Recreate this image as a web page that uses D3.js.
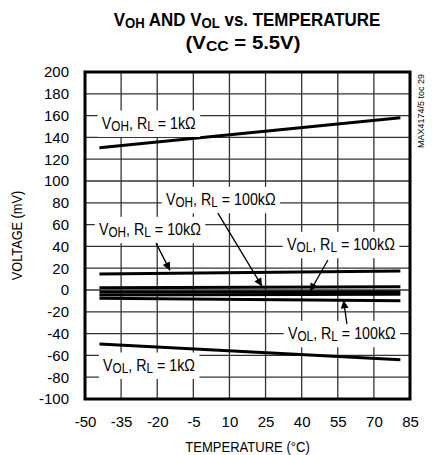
<!DOCTYPE html>
<html>
<head>
<meta charset="utf-8">
<script src="https://cdn.jsdelivr.net/npm/d3@7"></script>
<style>
  body { margin: 0; background: #fff; }
  svg text { font-family: "Liberation Sans", Arial, sans-serif; }
</style>
</head>
<body>
<script>
// chart values
var xTicks = [-50, -35, -20, -5, 10, 25, 40, 55, 70, 85]
var yTicks = [200, 180, 160, 140, 120, 100, 80, 60, 40, 20, 0, -20, -40, -60, -80, -100]

var temps = [-44, 81]
var vohR1k = [130.5, 158]
var vohR10k = [14.7, 17.4]
var vohR100k = [2.1, 3]
var volR10k = [-1.8, -1.5]
var volR100kA = [-4.6, -3.9]
var volR100kB = [-7.6, -9.8]
var volR1k = [-49.5, -64]

var seriesList = [vohR1k, vohR10k, vohR100k, volR10k, volR100kA, volR100kB, volR1k]

// labels: [sub, load, tempPos, mvPos]
var labels = [
  ["OH", "1k", -43, 148],
  ["OH", "100k", -16.4, 78],
  ["OH", "10k", -44.2, 50.5],
  ["OL", "100k", 33.9, 36.7],
  ["OL", "100k", 34.3, -45],
  ["OL", "1k", -42.5, -74]
]

// arrows: [fromTemp, fromMv, toTemp, toMv]
var arrows = [
  [5.2, 70.6, 23.5, 3.5],
  [-20.5, 43, -14.7, 18],
  [50.9, 27.5, 43.5, -1.2],
  [58.8, -31, 57.4, -9.5]
]

var width = 432
var height = 455
var pad = {left: 85, right: 22, top: 72, bottom: 56}

var svg = d3.select("body").append("svg")
            .attr("width", width)
            .attr("height", height)

var xScale = d3.scaleLinear().domain([-50, 85]).range([pad.left, width - pad.right])
var yScale = d3.scaleLinear().domain([-100, 200]).range([height - pad.bottom, pad.top])

var defs = svg.append("defs")
defs.append("marker")
    .attr("id", "head")
    .attr("viewBox", "0 0 10 10")
    .attr("refX", 10).attr("refY", 5)
    .attr("markerWidth", 11).attr("markerHeight", 8)
    .attr("markerUnits", "userSpaceOnUse")
    .attr("orient", "auto")
  .append("path")
    .attr("d", "M0,0 L10,5 L0,10 Z")
    .attr("fill", "#000")

// grid
svg.append("g").selectAll("line")
   .data(xTicks).enter().append("line")
   .attr("x1", function(d){ return xScale(d) })
   .attr("x2", function(d){ return xScale(d) })
   .attr("y1", yScale(200)).attr("y2", yScale(-100))
   .attr("stroke", "#333").attr("stroke-width", 1.3)

svg.append("g").selectAll("line")
   .data(yTicks).enter().append("line")
   .attr("y1", function(d){ return yScale(d) })
   .attr("y2", function(d){ return yScale(d) })
   .attr("x1", xScale(-50)).attr("x2", xScale(85))
   .attr("stroke", "#333").attr("stroke-width", 1.3)

// data lines
var line = d3.line()
             .x(function(d){ return xScale(d[0]) })
             .y(function(d){ return yScale(d[1]) })

svg.append("g").selectAll("path")
   .data(seriesList).enter().append("path")
   .attr("d", function(s){ return line(temps.map(function(t, i){ return [t, s[i]] })) })
   .attr("fill", "none")
   .attr("stroke", "#000")
   .attr("stroke-width", 3)

// label boxes + text, squeezed horizontally (original uses a condensed face)
var labG = svg.append("g")
labels.forEach(function(l){
  var x = xScale(l[2]), y = yScale(l[3])
  var t = labG.append("text")
           .attr("transform", "translate(" + x + "," + y + ") scale(0.84,1)")
           .style("font-size", "17px")
  t.append("tspan").text("V")
  t.append("tspan").text(l[0]).style("font-size", "14px").attr("dy", 2)
  t.append("tspan").text(", R").attr("dy", -2)
  t.append("tspan").text("L").style("font-size", "14px").attr("dy", 2)
  t.append("tspan").text(" = " + l[1] + "Ω").attr("dy", -2)
  var bb = t.node().getBBox()
  labG.insert("rect", "text")
   .attr("x", x + (bb.x - 5) * 0.84).attr("y", y + bb.y - 3)
   .attr("width", (bb.width + 10) * 0.84).attr("height", bb.height + 6)
   .attr("fill", "#fff")
})

// arrows
svg.append("g").selectAll("line")
   .data(arrows).enter().append("line")
   .attr("x1", function(d){ return xScale(d[0]) })
   .attr("y1", function(d){ return yScale(d[1]) })
   .attr("x2", function(d){ return xScale(d[2]) })
   .attr("y2", function(d){ return yScale(d[3]) })
   .attr("stroke", "#000").attr("stroke-width", 1.3)
   .attr("marker-end", "url(#head)")

// frame
svg.append("rect")
   .attr("x", xScale(-50)).attr("y", yScale(200))
   .attr("width", xScale(85) - xScale(-50))
   .attr("height", yScale(-100) - yScale(200))
   .attr("fill", "none").attr("stroke", "#000").attr("stroke-width", 3)

// axes labels (plain hyphen, like the original)
var fmt = function(d){ return String(d) }
var xAxis = d3.axisBottom(xScale).tickValues(xTicks).tickFormat(fmt).tickSize(0).tickPadding(17)
var yAxis = d3.axisLeft(yScale).tickValues(yTicks).tickFormat(fmt).tickSize(0).tickPadding(16)

var gx = svg.append("g").attr("transform", "translate(0," + yScale(-100) + ")").call(xAxis)
var gy = svg.append("g").attr("transform", "translate(" + xScale(-50) + ",0)").call(yAxis)
;[gx, gy].forEach(function(g){
  g.attr("font-family", null).attr("font-size", null)
  g.select(".domain").remove()
  g.selectAll("text").style("font-size", "15px").attr("fill", "#000")
})

svg.append("text")
   .attr("transform", "translate(" + xScale(17.5) + ",452) scale(0.87,1)")
   .attr("text-anchor", "middle")
   .style("font-size", "15px")
   .text("TEMPERATURE (°C)")

svg.append("text")
   .attr("transform", "translate(22," + yScale(50) + ") rotate(-90) scale(0.85,1)")
   .attr("text-anchor", "middle")
   .style("font-size", "15px")
   .text("VOLTAGE (mV)")

svg.append("text")
   .attr("transform", "translate(424,111) rotate(-90)")
   .attr("text-anchor", "middle")
   .style("font-size", "9px")
   .text("MAX4174/5 toc 29")

// title, squeezed to the original's width
const titleLine = function(cx, y, wanted, parts){
  var t = svg.append("text")
             .attr("text-anchor", "middle")
             .style("font-size", "18px").style("font-weight", "bold")
  parts.forEach(function(p){
    t.append("tspan").text(p[0])
     .style("font-size", p[1] ? "14px" : null)
     .attr("dy", p[2])
  })
  var w = t.node().getComputedTextLength()
  t.attr("transform", "translate(" + cx + "," + y + ") scale(" + (wanted / w) + ",1)")
}

titleLine(247, 26, 267, [["V", false, 0], ["OH", true, 2], [" AND V", false, -2],
                         ["OL", true, 2], [" vs. TEMPERATURE", false, -2]])
titleLine(243, 49, 115, [["(V", false, 0], ["CC", true, 2], [" = 5.5V)", false, -2]])
</script>
</body>
</html>
